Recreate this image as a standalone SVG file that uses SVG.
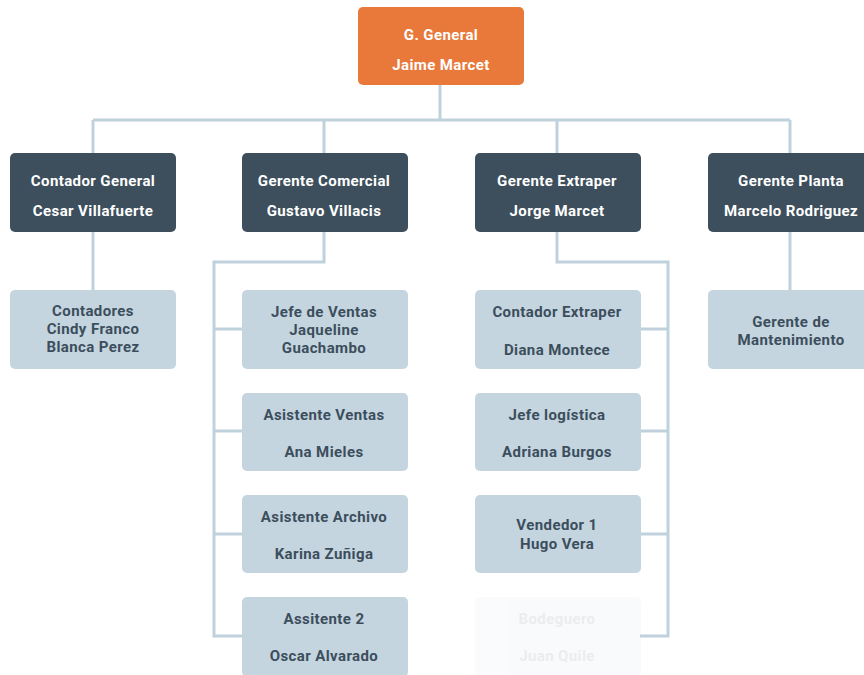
<svg xmlns="http://www.w3.org/2000/svg" width="864" height="675" viewBox="0 0 864 675">
<style>
.t{font-family:Roboto,"Liberation Sans",sans-serif;font-weight:bold;font-size:15px;letter-spacing:0.4px;text-anchor:middle}
.w{fill:#ffffff}
.d{fill:#3c4e5c}
.top{fill:#e8793a}
.mid{fill:#3d4f5d}
.low{fill:#c4d5e0}
.c{fill:none;stroke:#bfd1dc;stroke-width:3}
</style>
<rect width="864" height="675" fill="#ffffff"/>
<g id="connectors">
<path class="c" d="M440 85V120M93 120H790M93 120V153M324 120V153M557 120V153M790 120V153"/>
<path class="c" d="M93 232V290M790 232V290"/>
<path class="c" d="M324 232V262H214V636H242M214 329H242M214 431H242M214 534H242"/>
<path class="c" d="M557 232V262H668V636H640M640 329H668M640 431H668M640 534H668"/>
</g>
<g id="g-general"><rect class="top" x="358" y="7" width="166" height="78" rx="5"/><text class="t w" x="441" y="40">G. General</text><text class="t w" x="441" y="70">Jaime Marcet</text></g>
<g id="contador-general"><rect class="mid" x="10" y="153" width="166" height="79" rx="5"/><text class="t w" x="93" y="186">Contador General</text><text class="t w" x="93" y="216">Cesar Villafuerte</text></g>
<g id="gerente-comercial"><rect class="mid" x="242" y="153" width="166" height="79" rx="5"/><text class="t w" x="324" y="186">Gerente Comercial</text><text class="t w" x="324" y="216">Gustavo Villacis</text></g>
<g id="gerente-extraper"><rect class="mid" x="475" y="153" width="166" height="79" rx="5"/><text class="t w" x="557" y="186">Gerente Extraper</text><text class="t w" x="557" y="216">Jorge Marcet</text></g>
<g id="gerente-planta"><rect class="mid" x="708" y="153" width="166" height="79" rx="5"/><text class="t w" x="791" y="186">Gerente Planta</text><text class="t w" x="791" y="216">Marcelo Rodriguez</text></g>
<g id="contadores"><rect class="low" x="10" y="290" width="166" height="79" rx="5"/><text class="t d" x="93" y="316">Contadores</text><text class="t d" x="93" y="334">Cindy Franco</text><text class="t d" x="93" y="352">Blanca Perez</text></g>
<g id="jefe-ventas"><rect class="low" x="242" y="290" width="166" height="79" rx="5"/><text class="t d" x="324" y="317">Jefe de Ventas</text><text class="t d" x="324" y="335">Jaqueline</text><text class="t d" x="324" y="353">Guachambo</text></g>
<g id="asistente-ventas"><rect class="low" x="242" y="393" width="166" height="78" rx="5"/><text class="t d" x="324" y="420">Asistente Ventas</text><text class="t d" x="324" y="457">Ana Mieles</text></g>
<g id="asistente-archivo"><rect class="low" x="242" y="495" width="166" height="78" rx="5"/><text class="t d" x="324" y="522">Asistente Archivo</text><text class="t d" x="324" y="559">Karina Zuñiga</text></g>
<g id="assitente-2"><rect class="low" x="242" y="597" width="166" height="80" rx="5"/><text class="t d" x="324" y="624">Assitente 2</text><text class="t d" x="324" y="661">Oscar Alvarado</text></g>
<g id="contador-extraper"><rect class="low" x="475" y="290" width="166" height="79" rx="5"/><text class="t d" x="557" y="317">Contador Extraper</text><text class="t d" x="557" y="355">Diana Montece</text></g>
<g id="jefe-logistica"><rect class="low" x="475" y="393" width="166" height="78" rx="5"/><text class="t d" x="557" y="420">Jefe logística</text><text class="t d" x="557" y="457">Adriana Burgos</text></g>
<g id="vendedor-1"><rect class="low" x="475" y="495" width="166" height="78" rx="5"/><text class="t d" x="557" y="530">Vendedor 1</text><text class="t d" x="557" y="549">Hugo Vera</text></g>
<g id="bodeguero" opacity="0.1"><rect class="low" x="475" y="597" width="166" height="80" rx="5"/><text class="t d" x="557" y="624">Bodeguero</text><text class="t d" x="557" y="661">Juan Quile</text></g>
<g id="gerente-mantenimiento"><rect class="low" x="708" y="290" width="166" height="79" rx="5"/><text class="t d" x="791" y="327">Gerente de</text><text class="t d" x="791" y="345">Mantenimiento</text></g>
</svg>
